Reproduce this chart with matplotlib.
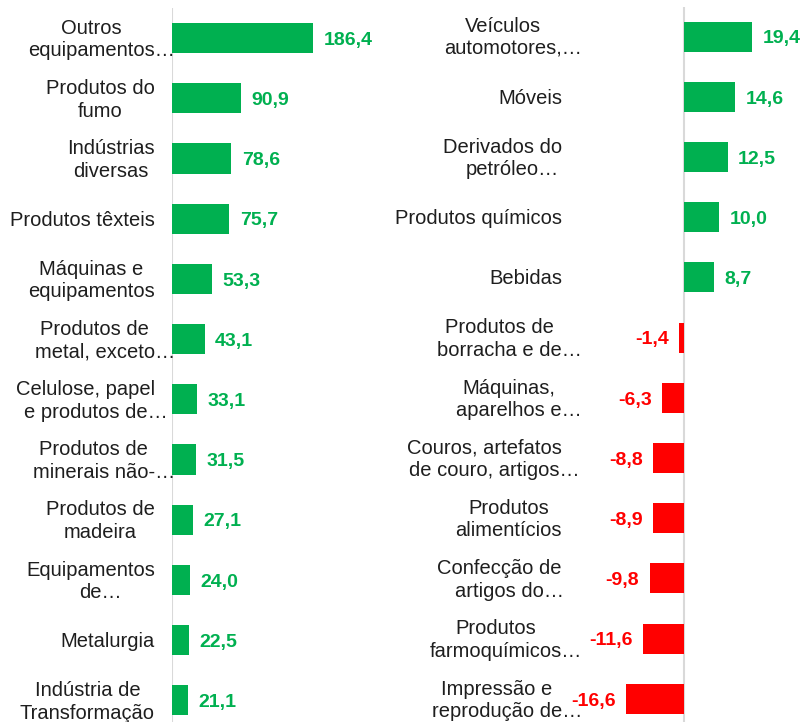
import matplotlib.pyplot as plt
from matplotlib.font_manager import FontProperties

plt.rcParams['font.family'] = ['Liberation Sans', 'DejaVu Sans']

# dados (de cima para baixo)
left_labels = ['Outros\nequipamentos…', 'Produtos do\nfumo', 'Indústrias\ndiversas',
               'Produtos têxteis', 'Máquinas e\nequipamentos', 'Produtos de\nmetal, exceto…',
               'Celulose, papel\ne produtos de…', 'Produtos de\nminerais não-…',
               'Produtos de\nmadeira', 'Equipamentos\nde…', 'Metalurgia',
               'Indústria de\nTransformação']
left_values = [186.4, 90.9, 78.6, 75.7, 53.3, 43.1, 33.1, 31.5, 27.1, 24.0, 22.5, 21.1]

right_labels = ['Veículos\nautomotores,…', 'Móveis', 'Derivados do\npetróleo…',
                'Produtos químicos', 'Bebidas', 'Produtos de\nborracha e de…',
                'Máquinas,\naparelhos e…', 'Couros, artefatos\nde couro, artigos…',
                'Produtos\nalimentícios', 'Confecção de\nartigos do…',
                'Produtos\nfarmoquímicos…', 'Impressão e\nreprodução de…']
right_values = [19.4, 14.6, 12.5, 10.0, 8.7, -1.4, -6.3, -8.8, -8.9, -9.8, -11.6, -16.6]

GREEN = '#00B050'
RED = '#FF0000'
TEXT = '#1E1E1E'
AXIS = '#D9D9D9'
FS_CAT = 14.5
FS_VAL = 14
LINE = 16.2  # espaçamento entre linhas, pt

W, H = 803, 722
fig = plt.figure(figsize=(W / 100, H / 100), dpi=100)
renderer = fig.canvas.get_renderer()


def text_width_pt(s, size, weight='normal'):
    prop = FontProperties(family=plt.rcParams['font.family'], size=size, weight=weight)
    w, h, d = renderer.get_text_width_height_descent(s, prop, ismath=False)
    return w * 72 / fig.dpi


def draw_categories(ax, labels, pad_pt):
    '''Rótulos centralizados; reticências ficam fora da caixa, como no Excel'''
    base = -0.3465 * FS_CAT
    for i, lab in enumerate(labels):
        lines = lab.split('\n')
        widths = [text_width_pt(ln.rstrip('…'), FS_CAT) for ln in lines]
        block = max(widths)
        n = len(lines)
        for k, (ln, w) in enumerate(zip(lines, widths)):
            x = -pad_pt - block / 2 - w / 2
            y = base + ((n - 1) / 2 - k) * LINE
            ax.annotate(ln, xy=(0, i), xycoords=('axes fraction', 'data'),
                        xytext=(x, y), textcoords='offset points',
                        ha='left', va='baseline', fontsize=FS_CAT, color=TEXT,
                        annotation_clip=False)


def draw_panel(ax, labels, values, xlim, pad_pt):
    y = range(len(values))
    colors = [GREEN if v >= 0 else RED for v in values]
    ax.barh(y, values, height=0.5, color=colors)
    ax.axvline(0, color=AXIS, lw=1.5, zorder=0)
    ax.set_xlim(*xlim)
    ax.set_ylim(len(values) - 0.5, -0.5)
    ax.set_xticks([])
    ax.set_yticks([])
    for s in ax.spines.values():
        s.set_visible(False)
    ax.patch.set_alpha(0)

    for i, v in enumerate(values):
        txt = f'{v:.1f}'.replace('.', ',')
        off = 7.5 if v >= 0 else -7.5
        ax.annotate(txt, xy=(v, i), xytext=(off, -0.3465 * FS_VAL),
                    textcoords='offset points', ha='left' if v >= 0 else 'right',
                    va='baseline', fontsize=FS_VAL, fontweight='bold',
                    color=GREEN if v >= 0 else RED, annotation_clip=False)
    draw_categories(ax, labels, pad_pt)


row_h = 60.2
ax_h = row_h * 12

ax1 = fig.add_axes([172 / W, (H - 8 - ax_h) / H, 228 / W, ax_h / H])
draw_panel(ax1, left_labels, left_values, (0, 228 / 0.7565), 17 * 0.72)

ax2 = fig.add_axes([579 / W, (H - 6.5 - ax_h) / H, 224 / W, ax_h / H])
draw_panel(ax2, right_labels, right_values, (-30, 34), 17 * 0.72)

fig.savefig('out.png', dpi=100)
